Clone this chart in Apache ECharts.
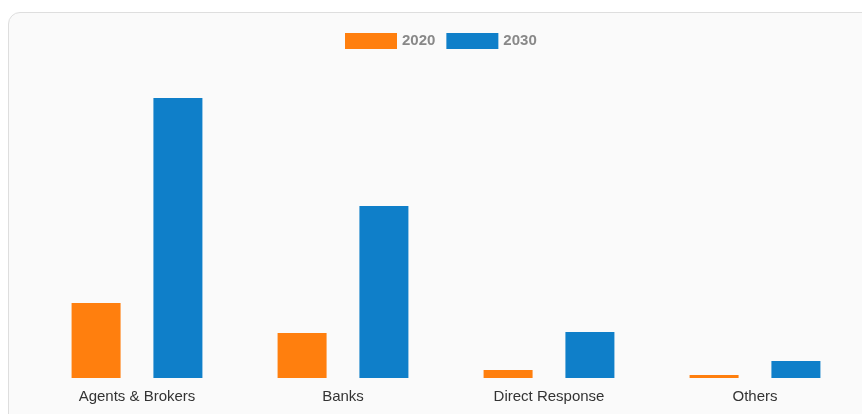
<!DOCTYPE html>
<html>
<head>
<meta charset="utf-8">
<script src="https://cdn.jsdelivr.net/npm/echarts@6/dist/echarts.min.js"></script>
<style>
html,body{margin:0;padding:0;background:#fff;overflow:hidden;}
#card{position:absolute;left:8px;top:12px;width:900px;height:450px;box-sizing:border-box;border:1px solid #dedede;border-radius:12px;background:#fafafa;}
#chart{position:absolute;left:0;top:0;width:862px;height:414px;}
</style>
</head>
<body>
<div id="card"></div>
<div id="chart"></div>
<script>
const categories = ['Agents & Brokers', 'Banks', 'Direct Response', 'Others'];
const seriesNames = ['2020', '2030'];
const values2020 = [7.5, 4.5, 0.8, 0.3];
const values2030 = [28.0, 17.2, 4.6, 1.7];
const colors = ['#ff7f0e', '#0f7fc9'];

const chart = echarts.init(document.getElementById('chart'), null, {renderer: 'canvas'});
chart.setOption({
  animation: false,
  backgroundColor: 'transparent',
  color: colors,
  legend: {
    top: 28,
    left: 340,
    itemWidth: 52,
    itemHeight: 16,
    itemGap: 11,
    icon: 'rect',
    textStyle: {color: '#888', fontSize: 15, fontWeight: 'bold', fontFamily: 'Liberation Sans, Arial, sans-serif'},
    data: seriesNames
  },
  grid: {left: 34, right: 4, top: 78, bottom: 36, containLabel: false},
  xAxis: {
    type: 'category',
    data: categories,
    axisLine: {show: false},
    axisTick: {show: false},
    axisLabel: {color: '#333', fontSize: 15, margin: 11, fontFamily: 'Liberation Sans, Arial, sans-serif'}
  },
  yAxis: {
    type: 'value',
    min: 0,
    max: 30,
    show: false,
    splitLine: {show: false}
  },
  series: [
    {name: seriesNames[0], type: 'bar', data: values2020, barWidth: 49, barGap: '67%'},
    {name: seriesNames[1], type: 'bar', data: values2030, barWidth: 49, barGap: '67%'}
  ]
});
</script>
</body>
</html>
